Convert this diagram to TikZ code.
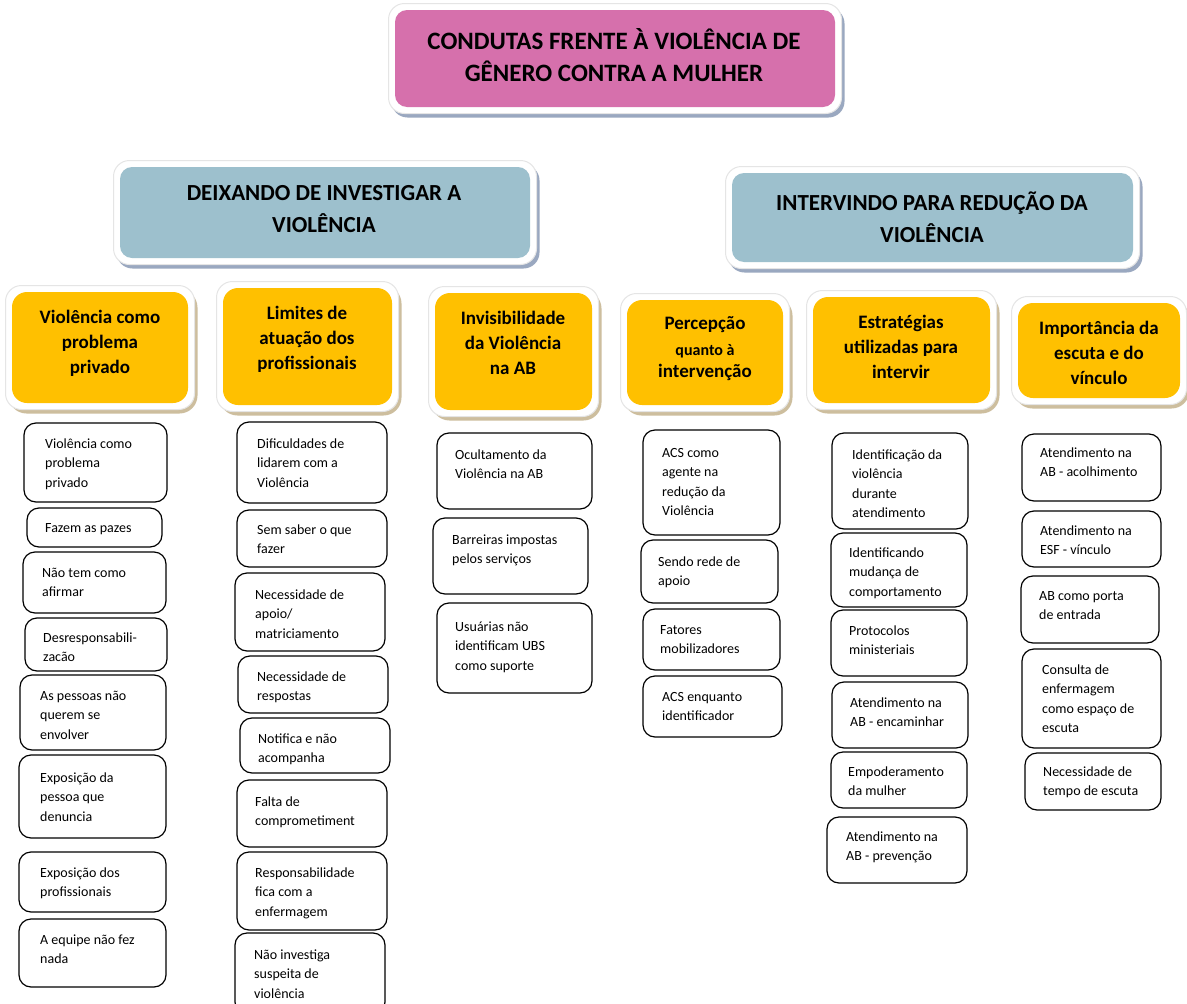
\documentclass[tikz,border=0pt]{standalone}
\usepackage{fontspec}
\setmainfont{Carlito}
\definecolor{pinkc}{HTML}{D670AC}
\definecolor{bluec}{HTML}{9DC0CD}
\definecolor{orangec}{HTML}{FFC000}
\definecolor{shblue}{HTML}{9AA8C0}
\definecolor{shtan}{HTML}{CDBE9E}
\newcommand{\mleft}[1]{\begin{tabular}[t]{@{}l@{}}#1\end{tabular}}
\newcommand{\mcent}[1]{\begin{tabular}[t]{@{}c@{}}#1\end{tabular}}
\newcommand{\wbox}[8]{%
  \pgfmathsetmacro\bw{#4-#2}\pgfmathsetmacro\bh{#5-#3}%
  \node[wb, minimum width=\bw pt, minimum height=\bh pt] (#1) at ({(#2+#4)/2},{(#3+#5)/2}) {};
  \node[wt] (#1-t) at (#6,#7) {\mleft{#8}};
}
% style, name, x1, y1, x2, y2 (inner coloured box)
\newcommand{\hdrbox}[6]{%
  \pgfmathsetmacro\bw{#5-#3}\pgfmathsetmacro\bh{#6-#4}%
  \pgfmathsetmacro\fw{#5-#3+13}\pgfmathsetmacro\fh{#6-#4+13}%
  \node[#1 sh, minimum width=\fw pt, minimum height=\fh pt] (#2-s) at ({(#3+#5)/2+3},{(#4+#6)/2+4}) {};
  \node[framebox, minimum width=\fw pt, minimum height=\fh pt] (#2-f) at ({(#3+#5)/2},{(#4+#6)/2}) {};
  \node[#1, minimum width=\bw pt, minimum height=\bh pt] (#2) at ({(#3+#5)/2},{(#4+#6)/2}) {};
}
\begin{document}
\begin{tikzpicture}[x=1pt,y=-1pt,
  wb/.style={draw=black, line width=1.2pt, rounded corners=12pt, fill=white, inner sep=0pt},
  wt/.style={anchor=base west, inner sep=0pt, font=\fontsize{14}{19.5}\selectfont},
  framebox/.style={draw=black!10, line width=1pt, fill=white, rounded corners=16pt, inner sep=0pt},
  pinkbox/.style={fill=pinkc, rounded corners=12pt, inner sep=0pt},
  pinkbox sh/.style={fill=shblue, rounded corners=16pt, inner sep=0pt},
  bluebox/.style={fill=bluec, rounded corners=12pt, inner sep=0pt},
  bluebox sh/.style={fill=shblue, rounded corners=16pt, inner sep=0pt},
  orbox/.style={fill=orangec, rounded corners=15pt, inner sep=0pt},
  orbox sh/.style={fill=shtan, rounded corners=18pt, inner sep=0pt},
  ttl/.style={anchor=base, inner sep=0pt, font=\bfseries\fontsize{25}{32}\selectfont},
  btl/.style={anchor=base, inner sep=0pt, font=\bfseries\fontsize{23}{32}\selectfont},
  otl/.style={anchor=base, inner sep=0pt, font=\bfseries\fontsize{19}{25}\selectfont},
]
\useasboundingbox[fill=white] (0,0) rectangle (1187,1004);

% Title
\hdrbox{pinkbox}{title}{395}{10}{835}{107}
\node[ttl] (title-t) at (614,49) {\mcent{CONDUTAS FRENTE À VIOLÊNCIA DE\\GÊNERO CONTRA A MULHER}};

% Blue headers
\hdrbox{bluebox}{bl}{120}{167}{530}{258}
\node[btl] (bl-t) at (324,200) {\mcent{DEIXANDO DE INVESTIGAR A\\VIOLÊNCIA}};
\hdrbox{bluebox}{br}{732}{173}{1133}{262}
\node[btl] (br-t) at (932,210) {\mcent{INTERVINDO PARA REDUÇÃO DA\\VIOLÊNCIA}};

% Orange headers
\hdrbox{orbox}{o1}{12}{292}{188}{403}
\node[otl] (o1-t) at (100,323) {\mcent{Violência como\\problema\\privado}};
\hdrbox{orbox}{o2}{223}{288}{392}{405}
\node[otl] (o2-t) at (307,319) {\mcent{Limites de\\atuação dos\\profissionais}};
\hdrbox{orbox}{o3}{435}{293}{592}{410}
\node[otl] (o3-t) at (513,324) {\mcent{Invisibilidade\\da Violência\\na AB}};
\hdrbox{orbox}{o4}{627}{300}{783}{405}
\node[otl] (o4-t1) at (705,329) {Percepção};
\node[otl, font=\bfseries\fontsize{16}{20}\selectfont] (o4-t2) at (705,355) {quanto à};
\node[otl] (o4-t3) at (705,377) {intervenção};
\hdrbox{orbox}{o5}{813}{297}{990}{403}
\node[otl] (o5-t) at (901,328) {\mcent{Estratégias\\utilizadas para\\intervir}};
\hdrbox{orbox}{o6}{1018}{303}{1180}{398}
\node[otl] (o6-t) at (1099,334) {\mcent{Importância da\\escuta e do\\vínculo}};

% Column 1
\wbox{v1}{24}{423}{167}{502}{45}{448}{Violência como\\problema\\privado}
\wbox{v2}{27}{508}{162}{547}{45}{532}{Fazem as pazes}
\wbox{v3}{23}{552}{166}{613}{42}{577}{Não tem como\\afirmar}
\wbox{v4}{25}{618}{167}{671}{43}{642}{Desresponsabili-\\zacão}
\wbox{v5}{20}{675}{166}{750}{40}{700}{As pessoas não\\querem se\\envolver}
\wbox{v6}{19}{755}{166}{838}{40}{782}{Exposição da\\pessoa que\\denuncia}
\wbox{v7}{19}{852}{166}{912}{40}{877}{Exposição dos\\profissionais}
\wbox{v8}{19}{919}{166}{987}{40}{944}{A equipe não fez\\nada}

% Column 2
\wbox{l1}{237}{422}{387}{503}{257}{448}{Dificuldades de\\lidarem com a\\Violência}
\wbox{l2}{237}{510}{387}{567}{257}{534}{Sem saber o que\\fazer}
\wbox{l3}{235}{573}{385}{651}{255}{599}{Necessidade de\\apoio/\\matriciamento}
\wbox{l4}{238}{656}{388}{713}{257}{681}{Necessidade de\\respostas}
\wbox{l5}{240}{718}{390}{773}{258}{743}{Notifica e não\\acompanha}
\wbox{l6}{237}{780}{387}{847}{255}{806}{Falta de\\comprometiment}
\wbox{l7}{237}{852}{387}{930}{255}{877}{Responsabilidade\\fica com a\\enfermagem}
\wbox{l8}{235}{933}{385}{1014}{254}{959}{Não investiga\\suspeita de\\violência}

% Column 3
\wbox{i1}{437}{433}{592}{509}{455}{459}{Ocultamento da\\Violência na AB}
\wbox{i2}{433}{518}{588}{594}{452}{544}{Barreiras impostas\\pelos serviços}
\wbox{i3}{437}{603}{592}{693}{455}{631}{Usuárias não\\identificam UBS\\como suporte}

% Column 4
\wbox{p1}{643}{430}{780}{535}{662}{457}{ACS como\\agente na\\redução da\\Violência}
\wbox{p2}{641}{540}{778}{603}{658}{566}{Sendo rede de\\apoio}
\wbox{p3}{643}{609}{780}{670}{660}{634}{Fatores\\mobilizadores}
\wbox{p4}{643}{676}{782}{737}{662}{701}{ACS enquanto\\identificador}

% Column 5
\wbox{e1}{832}{433}{968}{529}{852}{459}{Identificação da\\violência\\durante\\atendimento}
\wbox{e2}{831}{533}{967}{607}{849}{557}{Identificando\\mudança de\\comportamento}
\wbox{e3}{831}{610}{967}{676}{849}{635}{Protocolos\\ministeriais}
\wbox{e4}{832}{682}{968}{748}{850}{707}{Atendimento na\\AB - encaminhar}
\wbox{e5}{831}{752}{967}{808}{848}{776}{Empoderamento\\da mulher}
\wbox{e6}{827}{817}{967}{883}{846}{841}{Atendimento na\\AB - prevenção}

% Column 6
\wbox{c1}{1022}{434}{1161}{501}{1040}{457}{Atendimento na\\AB - acolhimento}
\wbox{c2}{1022}{511}{1161}{567}{1040}{535}{Atendimento na\\ESF - vínculo}
\wbox{c3}{1021}{576}{1159}{643}{1039}{600}{AB como porta\\de entrada}
\wbox{c4}{1022}{649}{1161}{748}{1042}{674}{Consulta de\\enfermagem\\como espaço de\\escuta}
\wbox{c5}{1025}{753}{1161}{810}{1043}{776}{Necessidade de\\tempo de escuta}
\end{tikzpicture}
\end{document}
